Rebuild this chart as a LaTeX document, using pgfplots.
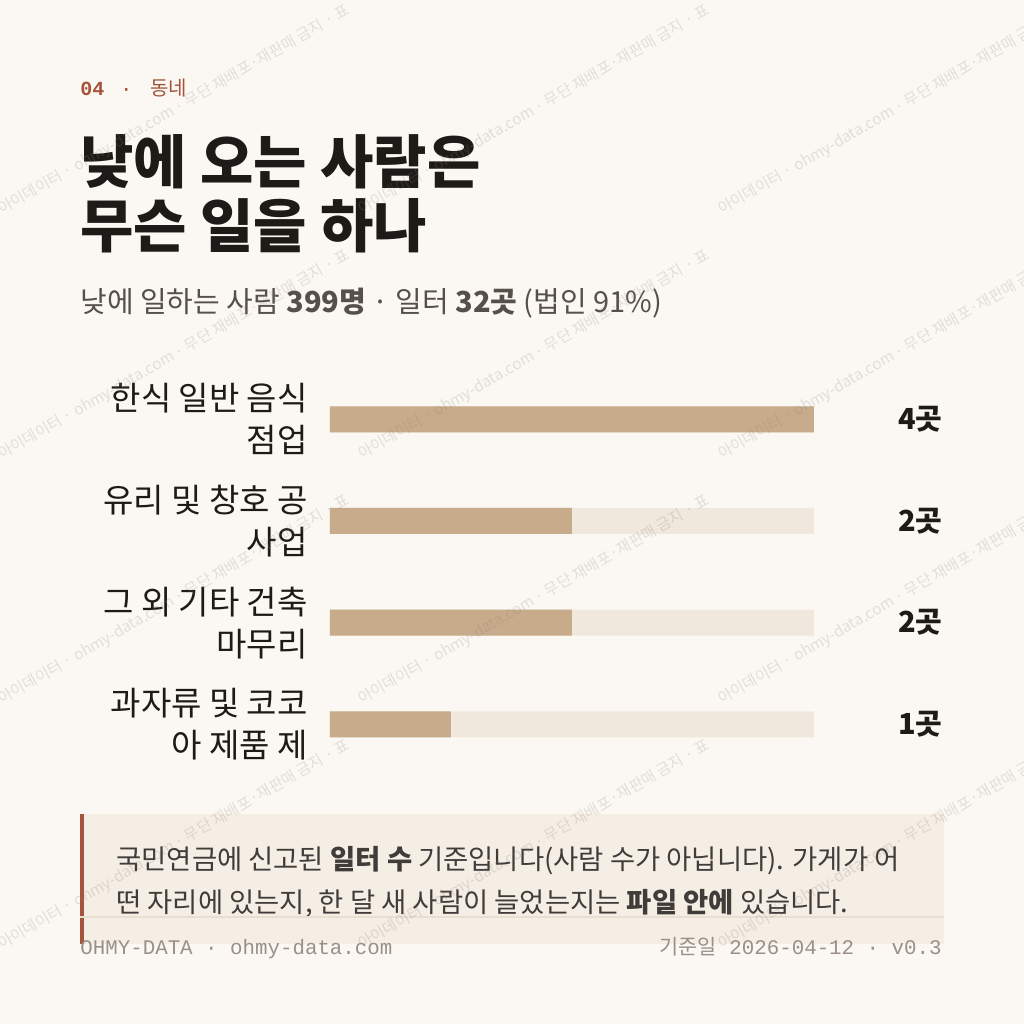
\documentclass[border=0pt]{standalone}
\usepackage{fontspec}
\usepackage{pgfplots}
\pgfplotsset{compat=1.18}
\setmainfont{Noto Sans CJK KR}
\newfontfamily\mono{Liberation Mono}
\newfontfamily\kr{Noto Sans CJK KR}
\definecolor{bg}{HTML}{FBF8F3}
\definecolor{track}{HTML}{F0E8DC}
\definecolor{barc}{HTML}{C8AB8A}
\definecolor{notebg}{HTML}{F5EEE4}
\definecolor{rust}{HTML}{A5533A}
\definecolor{ink}{HTML}{1E1A17}
\definecolor{sub}{HTML}{555049}
\definecolor{foot}{HTML}{9A9088}
\definecolor{rule}{HTML}{E8DFD2}
\definecolor{wm}{HTML}{8A8078}
\begin{document}
\begin{tikzpicture}[x=1pt,y=1pt]
\useasboundingbox (0,0) rectangle (512,512);
\fill[bg] (0,0) rectangle (512,512);
% header
\node[anchor=base west, inner sep=0pt, text=rust] at (40,464) {{\mono\bfseries\fontsize{10}{12}\selectfont 04}\hspace{8pt}{\mono\fontsize{10}{12}\selectfont ·}\hspace{9pt}{\fontsize{10}{12}\selectfont 동네}};
% title
\node[anchor=base west, inner sep=0pt, text=ink, font=\fontsize{29}{34}\selectfont\bfseries] at (40,420) {낮에 오는 사람은};
\node[anchor=base west, inner sep=0pt, text=ink, font=\fontsize{29}{34}\selectfont\bfseries] at (40,388) {무슨 일을 하나};
% subtitle
\node[anchor=base west, inner sep=0pt, text=sub, font=\fontsize{14.5}{17}\selectfont] at (40,355.5) {낮에 일하는 사람 \textbf{399명} · 일터 \textbf{32곳} (법인 91\%)};
% chart
\begin{axis}[
  at={(165pt,124.4pt)}, anchor=south west,
  scale only axis, width=242pt, height=203.4pt,
  xmin=0, xmax=4, ymin=-0.5, ymax=3.5, y dir=reverse,
  axis line style={draw=none}, xtick=\empty,
  ytick={0,1,2,3}, major tick length=0pt,
  yticklabels={{한식 일반 음식\\점업},{유리 및 창호 공\\사업},{그 외 기타 건축\\마무리},{과자류 및 코코\\아 제품 제}},
  yticklabel style={align=right, anchor=east, inner sep=0pt, xshift=-11pt, text=ink, font=\fontsize{16.5}{21}\selectfont},
  clip=false,
]
\addplot[xbar, bar width=13pt, bar shift=0pt, fill=track, draw=none] coordinates {(4,0) (4,1) (4,2) (4,3)};
\addplot[xbar, bar width=13pt, bar shift=0pt, fill=barc, draw=none] coordinates {(4,0) (2,1) (2,2) (1,3)};
\node[anchor=east, inner sep=0pt, text=ink, font=\fontsize{14.5}{17}\selectfont\bfseries] at (axis cs:4,0) [xshift=64.5pt] {4곳};
\node[anchor=east, inner sep=0pt, text=ink, font=\fontsize{14.5}{17}\selectfont\bfseries] at (axis cs:4,1) [xshift=64.5pt] {2곳};
\node[anchor=east, inner sep=0pt, text=ink, font=\fontsize{14.5}{17}\selectfont\bfseries] at (axis cs:4,2) [xshift=64.5pt] {2곳};
\node[anchor=east, inner sep=0pt, text=ink, font=\fontsize{14.5}{17}\selectfont\bfseries] at (axis cs:4,3) [xshift=64.5pt] {1곳};
\end{axis}
% note box
\fill[notebg] (40,40) rectangle (472,105);
\fill[rust] (40,40) rectangle (42,105);
\node[anchor=base west, inner sep=0pt, text=ink!85, font=\fontsize{13.7}{16}\selectfont] at (58,77) {국민연금에 신고된 \textbf{일터 수} 기준입니다(사람 수가 아닙니다). 가게가 어};
\node[anchor=base west, inner sep=0pt, text=ink!85, font=\fontsize{13.7}{16}\selectfont] at (58,56) {떤 자리에 있는지, 한 달 새 사람이 늘었는지는 \textbf{파일 안에} 있습니다.};
\draw[rule, line width=0.6pt] (40,53.5) -- (472,53.5);
% footer
\node[anchor=base west, inner sep=0pt, text=foot, font=\mono\fontsize{10.4}{12}\selectfont] at (40,34.5) {OHMY-DATA · ohmy-data.com};
\node[anchor=base east, inner sep=0pt, text=foot, font=\mono\fontsize{10.4}{12}\selectfont] at (471,34.5) {{\kr 기준일} 2026-04-12 · v0.3};
% watermark
\foreach \xo in {0,180,360} {
  \foreach \yb in {404.5,282,159.5,37} {
      \node[anchor=base west, inner sep=0pt, rotate=30, text=wm, opacity=0.22, font=\fontsize{7.7}{9}\selectfont] at (\xo+1,\yb) {아이데이터 · ohmy-data.com · 무단 재배포·재판매 금지 · 표};
  }
}
\end{tikzpicture}
\end{document}
